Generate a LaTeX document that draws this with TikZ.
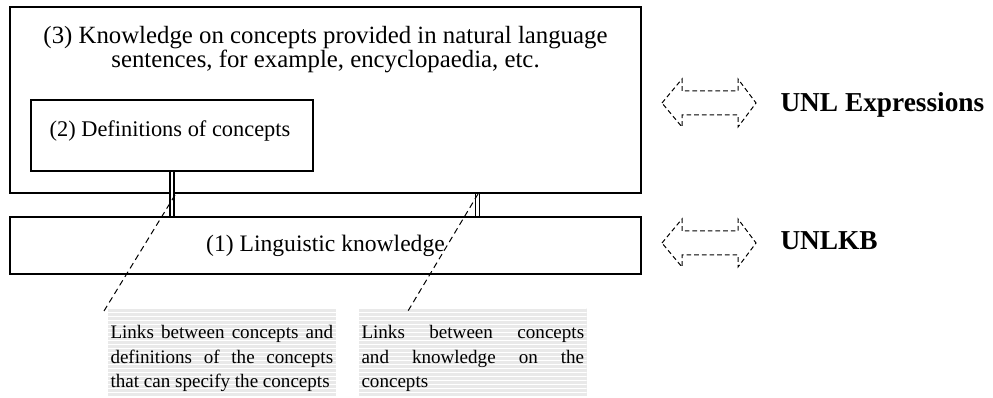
\documentclass[tikz,border=0pt]{standalone}
\usepackage{fontspec}
\setmainfont{Liberation Serif}
\usetikzlibrary{calc}

\tikzset{every picture/.style={line width=0.75pt}}

\begin{document}
\begin{tikzpicture}[x=0.75pt,y=0.75pt,yscale=-1,xscale=1,
  boxnode/.style={draw, line width=1.1pt, inner sep=0pt},
  boxtext/.style={inner sep=0pt, font=\fontsize{17.7}{16}\selectfont},
  wall/.style={double, double distance=2.2pt, line width=1pt},
  linkline/.style={dash pattern={on 4.5pt off 3pt}},
  linkbox/.style={minimum width=171pt, minimum height=66pt, inner sep=0pt, fill=gray!17,
    path picture={\foreach \k in {0,...,23}
      \draw[white, line width=0.7pt] ([yshift=-\k*3pt]path picture bounding box.north west) -- ([yshift=-\k*3pt]path picture bounding box.north east);}},
  linktext/.style={inner sep=0pt, text width=167pt, align=justify, font=\fontsize{14.3}{18.4}\selectfont},
  sidetext/.style={inner sep=0pt, font=\fontsize{20.5}{24}\selectfont\bfseries},
  blockarrow/.style={dash pattern={on 3.5pt off 2.25pt}}]
\useasboundingbox (0,0) rectangle (993,398);

% boxes
\node[boxnode, minimum width=473.25pt, minimum height=139.5pt] (know) at (325.5,100) {};
\node[boxnode, minimum width=211.5pt, minimum height=53.25pt] (defs) at (172,135.5) {};
\node[boxnode, boxtext, minimum width=473.25pt, minimum height=42.75pt] (ling) at (325.5,245.5) {(1) Linguistic knowledge};

% box texts
\node[boxtext, font=\fontsize{18.6}{16}\selectfont, anchor=north, align=center] (knowtxt) at (325.5,26) {(3) Knowledge on concepts provided in natural language\\sentences, for example, encyclopaedia, etc.};
\node[boxtext, font=\fontsize{16.8}{16}\selectfont, anchor=base] (defstxt) at (170,137) {(2) Definitions of concepts};

% double links
\draw[wall] (defs.south) -- (defs.south |- ling.north);
\draw[wall] ($(know.south)+(152,0)$) -- ($(ling.north)+(152,0)$);

% link notes
\node[linkbox] (linksA) at (222,352) {};
\node[linkbox] (linksB) at (472.5,352) {};
\node[linktext, anchor=north west] (txtA) at (110,325) {Links between concepts and\linebreak definitions of the concepts\linebreak that can specify the concepts};
\node[linktext, anchor=north west] (txtB) at (361,325) {Links between concepts\linebreak and knowledge on the\linebreak concepts};

\coordinate (tailA) at (175,195);
\coordinate (tipA) at (104,311);
\coordinate (tailB) at (478,194);
\coordinate (tipB) at (408,311);
\draw[linkline] (tailA) -- (tipA);
\draw[linkline] (tailB) -- (tipB);

% correspondence arrows
\foreach \y in {103,243}
  \draw[blockarrow] (662,\y) -- (682,\y-24) -- (682,\y-12) -- (738,\y-12) -- (738,\y-24) -- (756,\y) -- (738,\y+24) -- (738,\y+12) -- (682,\y+12) -- (682,\y+24) -- cycle;

\node[sidetext, anchor=base west] (unlexpr) at (780,112) {UNL Expressions};
\node[sidetext, anchor=base west] (unlkb) at (780,250) {UNLKB};

\end{tikzpicture}
\end{document}
